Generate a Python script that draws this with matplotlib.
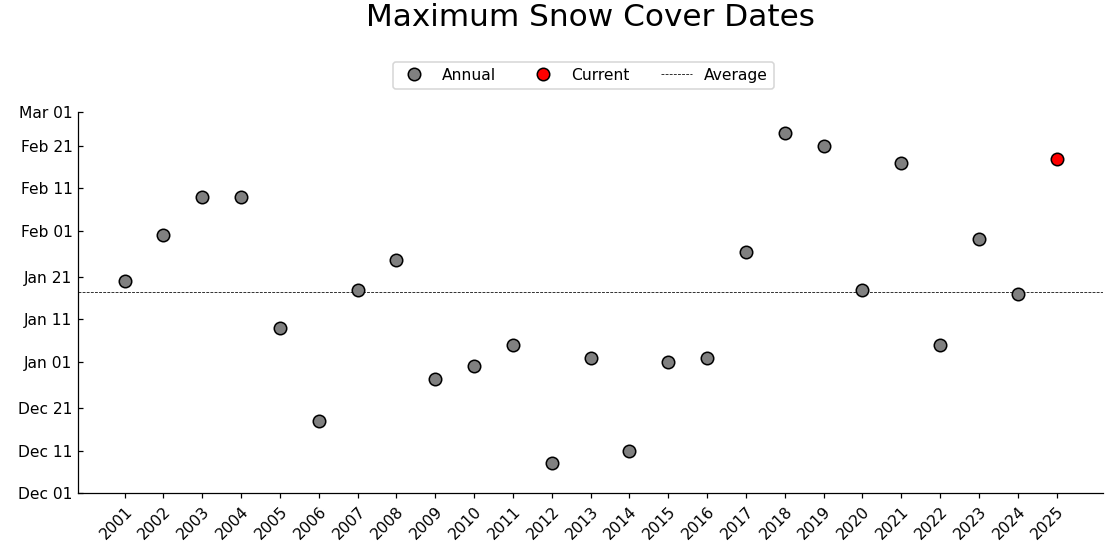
import matplotlib
matplotlib.use("Agg")
import matplotlib.pyplot as plt
import matplotlib.dates as mdates
from matplotlib.lines import Line2D
import numpy as np
import datetime as dt

years = list(range(2001, 2026))
# maximum snow cover date (month-day) for each season
max_dates = ["01-20", "01-31", "02-09", "02-09", "01-09", "12-18", "01-18", "01-25",
             "12-28", "12-31", "01-05", "12-08", "01-02", "12-11", "01-01", "01-02",
             "01-27", "02-24", "02-21", "01-18", "02-17", "01-05", "01-30", "01-17",
             "02-18"]
current_year = 2025
ytick_labels = ["Dec 01", "Dec 11", "Dec 21", "Jan 01", "Jan 11", "Jan 21",
                "Feb 01", "Feb 11", "Feb 21", "Mar 01"]

def to_season_date(md):
    m, d = map(int, md.split("-"))
    y = 2000 if m >= 9 else 2001
    return dt.datetime(y, m, d)

dates = [to_season_date(s) for s in max_dates]
ynum = mdates.date2num(dates)
avg = ynum.mean()

fig = plt.figure(figsize=(10, 5), dpi=112)
ax_left, ax_width = 0.0696, 0.9154
ax = fig.add_axes([ax_left, 0.1196, ax_width, 0.6804])

annual_x = [y for y in years if y != current_year]
annual_y = [v for y, v in zip(years, ynum) if y != current_year]
cur_y = [v for y, v in zip(years, ynum) if y == current_year]

ax.scatter(annual_x, annual_y, s=64, c="#808080", edgecolors="black", linewidths=1, zorder=3)
ax.scatter([current_year], cur_y, s=64, c="#ff0000", edgecolors="black", linewidths=1, zorder=3)
ax.axhline(avg, color="black", linestyle="--", linewidth=0.5, zorder=2)

ax.set_xlim(years[0] - 1.2, years[-1] + 1.2)
ax.set_xticks(years)
ax.set_xticklabels([str(y) for y in years], rotation=45, ha="right",
                   rotation_mode="anchor", fontsize=10)

ytick_dates = [dt.datetime.strptime(l + (" 2000" if l.startswith("Dec") else " 2001"), "%b %d %Y") for l in ytick_labels]
ax.set_ylim(mdates.date2num(ytick_dates[0]), mdates.date2num(ytick_dates[-1]))
ax.set_yticks(mdates.date2num(ytick_dates))
ax.set_yticklabels(ytick_labels, fontsize=10)
ax.tick_params(axis="y", direction="in")

for s in ["top", "right"]:
    ax.spines[s].set_visible(False)

fig.suptitle("Maximum Snow Cover Dates", fontsize=20, y=0.995, x=ax_left + ax_width / 2)

handles = [
    Line2D([], [], marker="o", linestyle="none", markerfacecolor="#808080", markeredgecolor="black", markersize=8),
    Line2D([], [], marker="o", linestyle="none", markerfacecolor="#ff0000", markeredgecolor="black", markersize=8),
    Line2D([], [], color="black", linestyle="--", linewidth=0.5),
]
ax.legend(handles, ["Annual", "Current", "Average"], loc="lower center",
          bbox_to_anchor=(0.493, 1.04), ncol=3, fontsize=10, frameon=True)

fig.savefig("out.png", dpi=112)
